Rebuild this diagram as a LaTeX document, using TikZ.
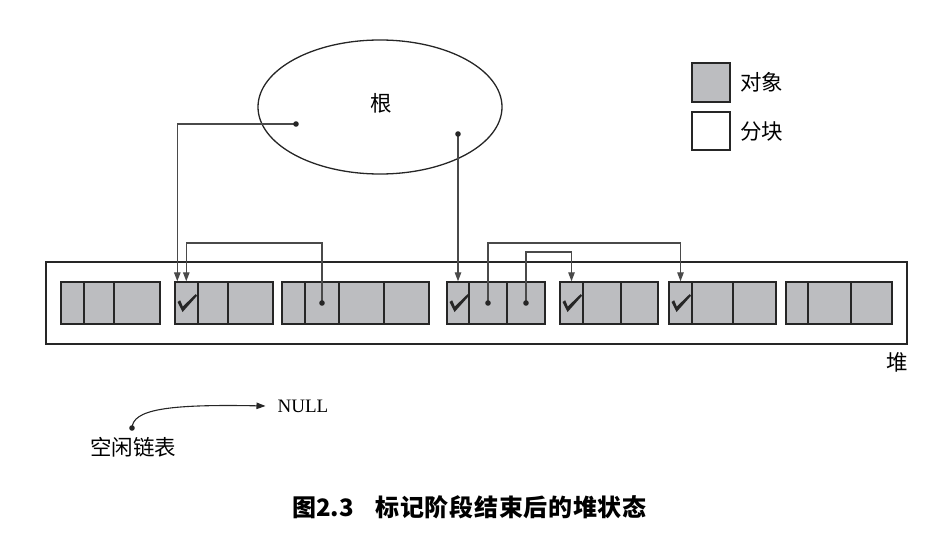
\documentclass[tikz,border=0pt]{standalone}
\usepackage{fontspec}
\setmainfont{Liberation Serif}
\newfontfamily\cjk{Noto Sans CJK SC}
\newfontfamily\cjkcap{Noto Sans CJK SC}[LetterSpace=3]
\usetikzlibrary{arrows.meta,shapes.geometric}
\definecolor{objgray}{HTML}{BCBDC0}
\definecolor{linegray}{HTML}{4A4A4A}
\definecolor{edgeblack}{HTML}{262626}
\newcommand\mkcell[3]{\node[cellbox,minimum width={(#3-#2)*1pt}] (#1) at ({(#2+#3)/2},303) {};}
\begin{document}
\begin{tikzpicture}[x=1pt,y=-1pt,
  cellbox/.style={draw=edgeblack,fill=objgray,line width=1.4pt,minimum height=42pt,inner sep=0pt,rectangle},
  conn/.style={draw=linegray,line width=1.2pt},
  arr/.style={conn,-{Triangle[width=6.5pt,length=9pt]}},
  dot/.style={fill=edgeblack},
  lbl/.style={font=\cjk\fontsize{21.5}{24}\selectfont,inner sep=0pt},
  tick/.pic={\fill[edgeblack] (2.5,20) -- (5.2,18.3) -- (7.8,24.5) -- (20.8,12) -- (22,13.8) -- (7.6,30) -- cycle;}
]
\useasboundingbox (0,0) rectangle (937,540);
% heap
\node[draw=edgeblack,line width=1.4pt,minimum width=861pt,minimum height=82pt,inner sep=0pt] (heap) at (476.5,303) {};
\node[lbl] (heaplbl) at (897,362) {堆};
% blocks
\mkcell{b1a}{61}{84}\mkcell{b1b}{84}{114}\mkcell{b1c}{114}{160}
\mkcell{b2a}{175}{198}\mkcell{b2b}{198}{228}\mkcell{b2c}{228}{273}
\mkcell{b3a}{282}{305}\mkcell{b3b}{305}{339}\mkcell{b3c}{339}{384}\mkcell{b3d}{384}{429}
\mkcell{b4a}{447}{469}\mkcell{b4b}{469}{507}\mkcell{b4c}{507}{545}
\mkcell{b5a}{560}{583}\mkcell{b5b}{583}{621}\mkcell{b5c}{621}{658}
\mkcell{b6a}{669}{692}\mkcell{b6b}{692}{733}\mkcell{b6c}{733}{776}
\mkcell{b7a}{786}{808}\mkcell{b7b}{808}{851}\mkcell{b7c}{851}{892}
% checks
\pic at (175,282) {tick};
\pic at (447,282) {tick};
\pic at (560,282) {tick};
\pic at (669,282) {tick};
% root
\node[ellipse,draw=edgeblack,line width=1.3pt,minimum width=244pt,minimum height=134pt] (root) at (380,107) {};
\node[lbl] (rootlbl) at (381,103) {根};
\coordinate (r1) at (296,124);
\coordinate (r2) at (458,134);
% connectors
\draw[arr] (r1) -| ([xshift=3pt]b2a.north west);
\draw[arr] (b3b.center) -- ++(0,-60) -| ([xshift=12pt]b2a.north west);
\draw[arr] (r2) -- (b4a.north);
\draw[arr] (b4b.center) -- ++(0,-60) -| (b6a.north);
\draw[arr] (b4c.center) -- ++(0,-51) -| (b5a.north);
\fill[dot] (r1) circle (2.8);
\fill[dot] (r2) circle (2.8);
\fill[dot] (b3b.center) circle (2.8);
\fill[dot] (b4b.center) circle (2.8);
\fill[dot] (b4c.center) circle (2.8);
% legend
\node[cellbox,minimum width=38pt,minimum height=39pt] (legobj) at (711,82.5) {};
\node[cellbox,fill=white,minimum width=38pt,minimum height=38pt] (legblk) at (711,131) {};
\node[lbl,anchor=west] (legobjlbl) at (740,82) {对象};
\node[lbl,anchor=west] (legblklbl) at (740,131) {分块};
% free list
\coordinate (fl) at (132,428);
\node[font=\fontsize{19}{22}\selectfont,inner sep=0pt] (null) at (303,406) {NULL};
\node[lbl] (fllbl) at (133,447) {空闲链表};
\draw[arr,draw=edgeblack,line width=1.1pt] (fl) .. controls (133,410) and (165,404) .. ([xshift=-12pt]null.west);
\fill[dot] (fl) circle (2.8);
% caption
\node[font=\bfseries\fontsize{24}{28}\selectfont,inner sep=0pt,anchor=west] (caption) at (292,507) {{\cjk 图2.3}\hspace{0.9em}{\cjkcap 标记阶段结束后的堆状态}};
\end{tikzpicture}
\end{document}
